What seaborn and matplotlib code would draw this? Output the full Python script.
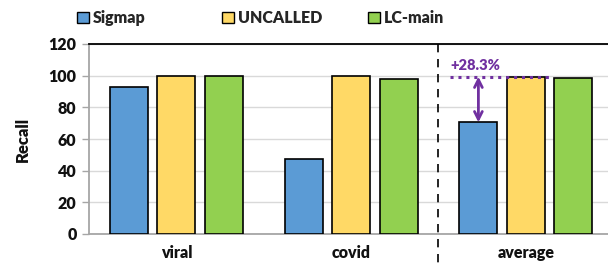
import matplotlib
matplotlib.use("Agg")
import matplotlib.pyplot as plt
import seaborn as sns
import pandas as pd
from matplotlib.patches import Patch

categories = ["viral", "covid", "average"]
tools = ["Sigmap", "UNCALLED", "LC-main"]
sigmap = [93.0, 47.6, 70.5]
uncalled = [99.6, 99.5, 99.4]
lcmain = [100.0, 97.7, 98.8]
improvement_label = "+28.3%"
y_ticks = [0, 20, 40, 60, 80, 100, 120]

colors = ["#5B9BD5", "#FFD966", "#92D050"]
purple = "#7030A0"
W = "heavy"

sns.set_theme(style="white")
plt.rcParams["font.family"] = ["Lato", "DejaVu Sans"]
plt.rcParams["font.weight"] = W

rows = []
for t, vals in zip(tools, [sigmap, uncalled, lcmain]):
    for c, v in zip(categories, vals):
        rows.append({"cat": c, "tool": t, "val": v})
df = pd.DataFrame(rows)

fig = plt.figure(figsize=(6.08, 2.63), dpi=100)
ax = fig.add_axes([89 / 608, 1 - 234 / 263, 1 - 89 / 608, 190 / 263])

sns.barplot(data=df, x="cat", y="val", hue="tool", order=categories, hue_order=tools,
            palette=colors, saturation=1, width=0.815, gap=0.2, edgecolor="black",
            linewidth=1.2, legend=False, ax=ax, zorder=3)

ax.set_xlim(-0.5, 2.47)
ax.set_ylim(0, 120)
ax.set_yticks(y_ticks)
ax.yaxis.grid(True, color="#d9d9d9", linewidth=1.0, zorder=0)
ax.set_axisbelow(True)
ax.set_xlabel("")
ax.set_ylabel("Recall", fontsize=12, fontweight=W, color="#111111", labelpad=13)
ax.tick_params(axis="y", length=5, width=1, color="#a6a6a6", labelsize=11.5,
               labelcolor="#111111", pad=4, left=True)
ax.tick_params(axis="x", length=0, labelsize=11.5, labelcolor="#111111", pad=8)
for lab in ax.get_xticklabels() + ax.get_yticklabels():
    lab.set_fontweight(W)

for s in ["left", "bottom"]:
    ax.spines[s].set_color("#a6a6a6")
    ax.spines[s].set_linewidth(1.3)
ax.spines["top"].set_color("black")
ax.spines["top"].set_linewidth(1.3)
ax.spines["right"].set_visible(False)

# separator between datasets and average
ax.plot([1.5, 1.5], [1.0, -0.17], transform=ax.get_xaxis_transform(),
        color="black", linestyle=(0, (5, 4)), linewidth=1.2, clip_on=False, zorder=5)

# improvement annotation
bar_step = 0.815 / 3
x_sig = 2 - bar_step
top = max(uncalled[2], lcmain[2])
ax.plot([1.566, 2.149], [top, top], color=purple, linestyle=(0, (1, 1.6)),
        linewidth=2.2, zorder=6)
ax.annotate("", xy=(x_sig, sigmap[2]), xytext=(x_sig, top),
            arrowprops=dict(arrowstyle="<->", color=purple, lw=2.0,
                            mutation_scale=14, shrinkA=0, shrinkB=0), zorder=6)
ax.text(x_sig - 0.015, top + 3.0, improvement_label, color=purple, fontsize=10.5,
        fontweight=W, ha="center", va="bottom", zorder=7)

legend_x = [77, 222, 368]
for c, t, lx in zip(colors, tools, legend_x):
    h = Patch(facecolor=c, edgecolor="black", linewidth=1.0)
    leg = fig.legend([h], [t], loc="center left", bbox_to_anchor=(lx / 608, 1 - 18 / 263),
                     frameon=False, handlelength=0.75, handleheight=0.75,
                     handletextpad=0.25, borderpad=0, borderaxespad=0,
                     prop={"weight": W, "size": 11.5})

fig.savefig("out.png", dpi=100)
